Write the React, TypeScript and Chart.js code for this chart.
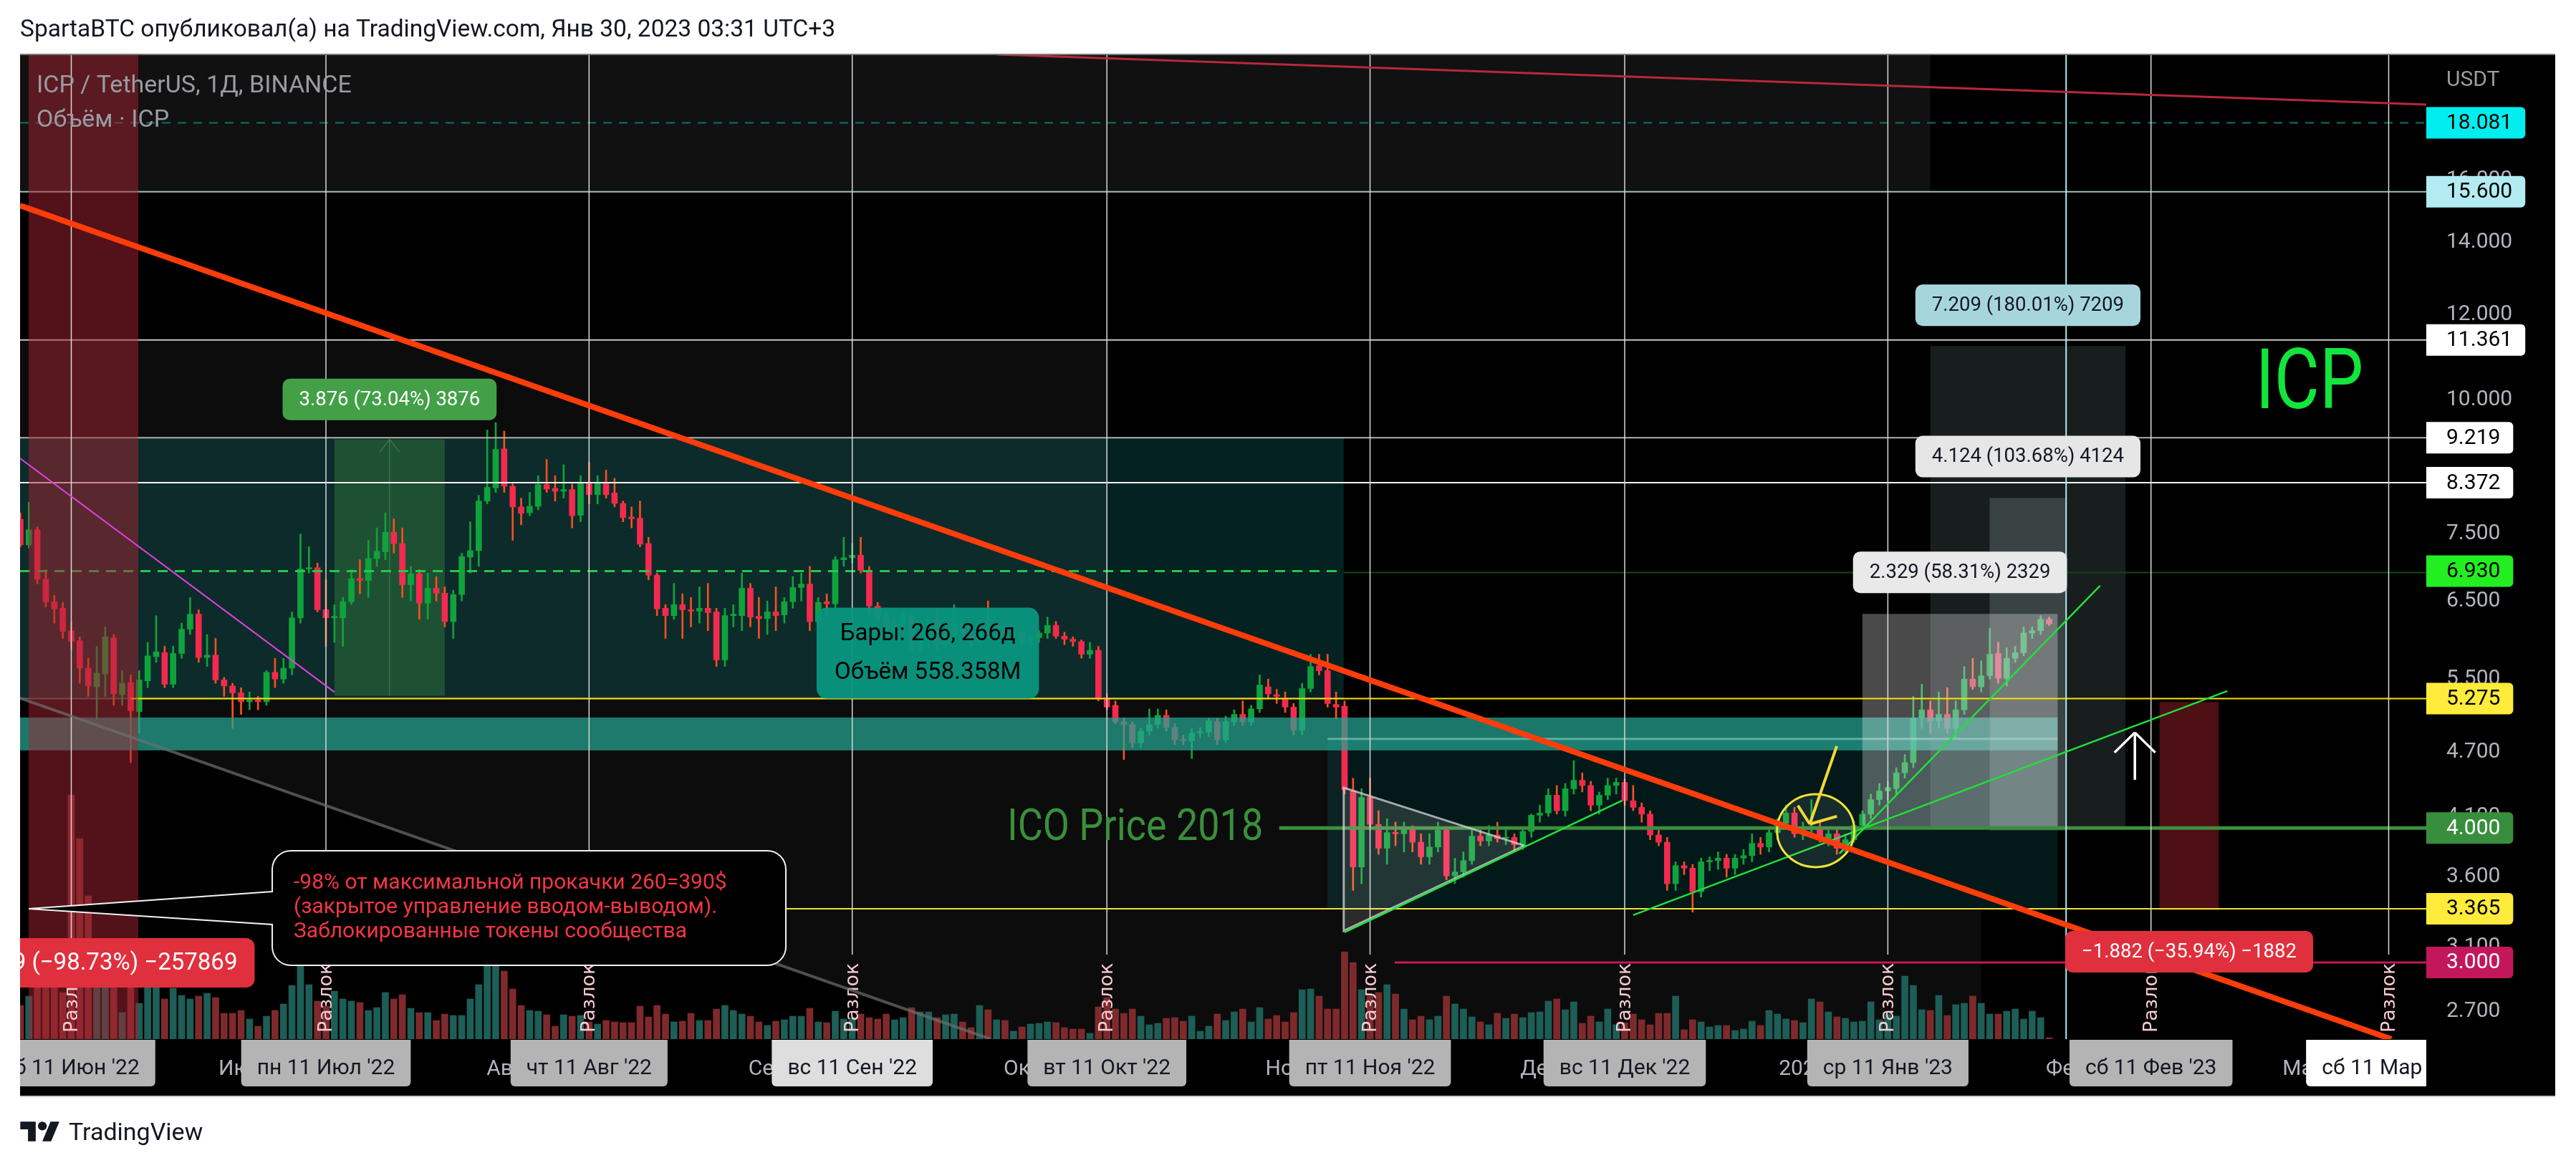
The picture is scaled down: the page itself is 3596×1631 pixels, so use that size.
import React, { useEffect, useRef } from 'react';
import { Chart, registerables } from 'chart.js';

Chart.register(...registerables);

const FONT = 'Roboto, "Noto Sans", "DejaVu Sans", sans-serif';

// Daily ICP/USDT candles. x = day offset from Sat 11 Jun 2022 (first candle 5 Jun 2022, last 30 Jan 2023)
const firstDay = -6;

const openPrices = [
  7.74, 7.33, 7.57, 6.81, 6.49, 6.40,
  6.10, 5.97, 5.63, 5.41, 5.56, 6.01, 5.32, 5.46, 5.13, 5.48,
  5.77, 5.82, 5.44, 5.81, 6.12, 6.32, 5.76, 5.79, 5.49, 5.42,
  5.34, 5.24, 5.26, 5.24, 5.58, 5.50, 5.63, 6.27, 6.96, 6.98,
  6.38, 6.27, 6.27, 6.49, 6.82, 6.79, 7.12, 7.22, 7.53, 7.35,
  6.73, 6.89, 6.47, 6.68, 6.61, 6.22, 6.59, 7.14, 7.24, 8.05,
  8.28, 9.00, 8.31, 7.95, 7.85, 7.96, 8.34, 8.27, 8.22, 8.25,
  7.81, 8.36, 8.16, 8.36, 8.19, 8.01, 7.78, 7.76, 7.35, 6.87,
  6.40, 6.30, 6.45, 6.38, 6.36, 6.40, 6.35, 5.73, 6.30, 6.30,
  6.68, 6.29, 6.26, 6.35, 6.31, 6.49, 6.69, 6.74, 6.22, 6.49,
  6.46, 7.10, 7.13, 7.17, 6.94, 6.43, 6.28, 6.11, 6.17, 6.30,
  5.87, 6.02, 6.25, 5.92, 6.05, 6.20, 6.08, 5.95, 6.18, 6.10,
  6.15, 6.00, 6.08, 5.97, 6.01, 6.07, 6.17, 6.03, 5.99, 5.96,
  5.80, 5.85, 5.28, 5.20, 5.02, 4.99, 4.80, 4.92, 4.99, 5.09,
  4.96, 4.83, 4.82, 4.90, 4.91, 5.02, 4.83, 5.02, 5.10, 5.02,
  5.16, 5.41, 5.32, 5.28, 5.18, 4.93, 5.39, 5.66, 5.60, 5.21,
  5.19, 4.33, 3.68, 4.27, 4.03, 3.83, 3.96, 3.95, 3.99, 3.88,
  3.76, 3.84, 3.98, 3.61, 3.64, 3.73, 3.93, 3.89, 3.94, 3.91,
  3.92, 3.86, 3.97, 4.11, 4.13, 4.29, 4.15, 4.35, 4.43, 4.38,
  4.20, 4.29, 4.38, 4.41, 4.24, 4.18, 4.12, 3.94, 3.88, 3.55,
  3.69, 3.67, 3.49, 3.72, 3.73, 3.75, 3.67, 3.75, 3.77, 3.87,
  3.84, 3.96, 4.04, 4.13, 3.95, 4.00, 4.01, 3.90, 3.95, 3.83,
  3.90, 4.02, 4.12, 4.25, 4.33, 4.35, 4.50, 4.60, 5.06, 5.15,
  5.03, 5.10, 4.95, 5.15, 5.50, 5.41, 5.54, 5.81, 5.51, 5.75,
  5.82, 6.07, 6.10, 6.25,
];

const highPrices = [
  7.85, 8.03, 7.62, 6.95, 6.58, 6.48,
  6.22, 6.02, 5.75, 5.90, 6.15, 6.05, 5.60, 5.55, 5.60, 5.95,
  6.30, 5.90, 5.90, 6.20, 6.55, 6.38, 6.05, 6.00, 5.52, 5.45,
  5.40, 5.35, 5.30, 5.60, 5.75, 5.75, 6.35, 7.50, 7.30, 7.05,
  6.80, 6.45, 6.55, 6.95, 7.10, 7.40, 7.60, 7.85, 7.75, 7.60,
  7.00, 6.95, 6.90, 6.85, 6.70, 6.65, 7.20, 7.70, 8.15, 9.37,
  9.52, 9.35, 8.35, 8.10, 8.20, 8.50, 8.80, 8.50, 8.70, 8.35,
  8.50, 8.75, 8.50, 8.60, 8.45, 8.05, 7.95, 8.05, 7.45, 6.90,
  6.45, 6.75, 6.60, 6.55, 6.70, 6.75, 6.40, 6.40, 6.45, 6.90,
  6.75, 6.55, 6.50, 6.70, 6.55, 6.85, 6.90, 7.00, 6.55, 6.60,
  7.15, 7.45, 7.35, 7.45, 7.00, 6.48, 6.32, 6.25, 6.35, 6.32,
  6.05, 6.28, 6.40, 6.10, 6.45, 6.25, 6.12, 6.25, 6.50, 6.20,
  6.18, 6.12, 6.10, 6.05, 6.10, 6.28, 6.22, 6.08, 6.02, 5.98,
  5.95, 5.90, 5.33, 5.25, 5.06, 5.02, 4.95, 5.16, 5.16, 5.15,
  5.00, 4.88, 4.95, 4.96, 5.06, 5.06, 5.08, 5.15, 5.25, 5.20,
  5.55, 5.50, 5.38, 5.35, 5.22, 5.45, 5.80, 5.80, 5.80, 5.35,
  5.25, 4.45, 4.35, 4.45, 4.15, 4.08, 4.05, 4.05, 4.02, 3.95,
  3.95, 4.05, 4.00, 3.75, 3.80, 3.98, 3.98, 4.02, 4.05, 4.00,
  3.95, 4.00, 4.12, 4.20, 4.35, 4.38, 4.40, 4.62, 4.50, 4.42,
  4.32, 4.45, 4.45, 4.44, 4.38, 4.22, 4.15, 3.98, 3.92, 3.72,
  3.72, 3.70, 3.75, 3.76, 3.80, 3.78, 3.78, 3.82, 3.95, 3.92,
  4.00, 4.08, 4.20, 4.18, 4.05, 4.25, 4.06, 3.98, 4.00, 3.95,
  4.06, 4.15, 4.30, 4.40, 4.42, 4.55, 4.68, 5.30, 5.44, 5.25,
  5.35, 5.40, 5.25, 5.65, 5.75, 5.72, 6.13, 5.95, 5.88, 5.90,
  6.15, 6.15, 6.30, 6.28,
];

const lowPrices = [
  7.30, 7.28, 6.74, 6.42, 6.20, 6.00,
  5.85, 5.45, 5.30, 5.05, 5.30, 5.20, 5.20, 4.60, 4.90, 5.40,
  5.70, 5.40, 5.40, 5.75, 6.05, 5.70, 5.65, 5.45, 5.30, 4.95,
  5.10, 5.15, 5.15, 5.20, 5.40, 5.45, 5.55, 6.20, 6.90, 6.35,
  5.90, 5.95, 5.90, 6.45, 6.60, 6.55, 7.00, 7.10, 7.20, 6.55,
  6.50, 6.25, 6.25, 6.50, 6.15, 6.00, 6.50, 6.90, 7.00, 8.00,
  8.20, 8.20, 7.40, 7.65, 7.80, 7.90, 8.20, 8.05, 8.10, 7.60,
  7.70, 8.00, 8.00, 8.10, 7.95, 7.70, 7.60, 7.30, 6.80, 6.30,
  6.00, 6.25, 6.00, 6.15, 6.20, 6.10, 5.65, 5.65, 6.15, 6.10,
  6.15, 6.00, 6.05, 6.10, 6.20, 6.40, 6.50, 6.10, 6.15, 6.30,
  6.40, 7.00, 7.05, 6.90, 6.33, 6.25, 6.05, 6.05, 6.12, 5.85,
  5.82, 5.88, 5.85, 5.85, 6.00, 6.02, 5.90, 5.92, 6.05, 6.00,
  5.95, 5.95, 5.92, 5.90, 5.95, 6.00, 6.00, 5.92, 5.90, 5.75,
  5.75, 5.25, 5.15, 5.00, 4.63, 4.75, 4.75, 4.88, 4.95, 4.92,
  4.78, 4.78, 4.64, 4.85, 4.86, 4.78, 4.80, 4.98, 4.98, 4.98,
  5.12, 5.28, 5.22, 5.12, 4.88, 4.88, 5.35, 5.55, 5.18, 5.05,
  4.30, 3.50, 3.55, 4.00, 3.78, 3.70, 3.85, 3.80, 3.80, 3.70,
  3.70, 3.80, 3.58, 3.55, 3.60, 3.70, 3.85, 3.85, 3.88, 3.86,
  3.80, 3.82, 3.92, 4.05, 4.10, 4.12, 4.10, 4.30, 4.32, 4.15,
  4.12, 4.25, 4.30, 4.20, 4.15, 4.05, 3.90, 3.85, 3.50, 3.50,
  3.62, 3.34, 3.45, 3.65, 3.66, 3.60, 3.62, 3.70, 3.72, 3.78,
  3.80, 3.90, 4.00, 3.92, 3.90, 3.95, 3.88, 3.85, 3.78, 3.80,
  3.88, 3.98, 4.08, 4.20, 4.25, 4.30, 4.45, 4.55, 4.95, 4.90,
  4.95, 4.90, 4.85, 5.10, 5.38, 5.35, 5.50, 5.45, 5.42, 5.70,
  5.78, 6.00, 6.05, 6.17,
];

const closePrices = [
  7.33, 7.57, 6.81, 6.49, 6.39, 6.09,
  5.96, 5.63, 5.42, 5.57, 6.02, 5.33, 5.45, 5.14, 5.49, 5.78,
  5.83, 5.44, 5.81, 6.12, 6.32, 5.76, 5.79, 5.49, 5.42, 5.34,
  5.24, 5.26, 5.24, 5.58, 5.50, 5.63, 6.27, 6.96, 6.97, 6.38,
  6.27, 6.29, 6.49, 6.82, 6.79, 7.12, 7.23, 7.53, 7.35, 6.73,
  6.89, 6.47, 6.68, 6.61, 6.22, 6.59, 7.15, 7.24, 8.05, 8.29,
  8.99, 8.31, 7.95, 7.84, 7.96, 8.34, 8.26, 8.22, 8.25, 7.80,
  8.36, 8.16, 8.36, 8.16, 8.01, 7.77, 7.75, 7.34, 6.87, 6.39,
  6.30, 6.45, 6.38, 6.36, 6.40, 6.34, 5.73, 6.30, 6.31, 6.68,
  6.28, 6.26, 6.35, 6.30, 6.49, 6.69, 6.74, 6.22, 6.48, 6.46,
  7.10, 7.13, 7.17, 6.94, 6.43, 6.28, 6.11, 6.17, 6.30, 5.87,
  6.02, 6.25, 5.92, 6.05, 6.20, 6.08, 5.95, 6.18, 6.10, 6.15,
  6.00, 6.08, 5.97, 6.01, 6.07, 6.17, 6.03, 5.99, 5.96, 5.80,
  5.85, 5.28, 5.18, 5.02, 4.99, 4.80, 4.92, 4.99, 5.09, 4.96,
  4.83, 4.82, 4.90, 4.91, 5.03, 4.83, 5.02, 5.10, 5.02, 5.16,
  5.43, 5.33, 5.30, 5.18, 4.93, 5.39, 5.65, 5.60, 5.22, 5.18,
  4.34, 3.68, 4.27, 4.03, 3.83, 3.96, 3.95, 3.99, 3.88, 3.76,
  3.84, 3.98, 3.61, 3.64, 3.73, 3.93, 3.89, 3.94, 3.91, 3.92,
  3.86, 3.97, 4.11, 4.13, 4.29, 4.15, 4.35, 4.43, 4.38, 4.20,
  4.29, 4.38, 4.41, 4.24, 4.18, 4.12, 3.94, 3.88, 3.55, 3.69,
  3.67, 3.49, 3.72, 3.73, 3.75, 3.67, 3.75, 3.77, 3.87, 3.84,
  3.96, 4.04, 4.13, 3.95, 4.00, 4.01, 3.90, 3.95, 3.83, 3.90,
  4.02, 4.12, 4.25, 4.33, 4.36, 4.50, 4.60, 5.06, 5.15, 5.03,
  5.10, 4.95, 5.15, 5.50, 5.41, 5.54, 5.80, 5.51, 5.75, 5.82,
  6.07, 6.10, 6.25, 6.19,
];

// Daily volume, millions ICP
const volumeM = [
  4.7, 6.0, 7.9, 8.5, 7.2, 6.5,
  34.1, 28.0, 20.0, 8.7, 8.4, 8.5, 3.7, 7.7, 5.0, 8.1,
  8.2, 5.6, 7.1, 6.1, 5.6, 6.0, 6.4, 5.8, 3.6, 3.6,
  4.0, 2.8, 1.8, 3.2, 4.0, 4.9, 7.5, 11.0, 7.6, 5.3,
  4.6, 6.7, 5.6, 5.3, 5.1, 4.0, 4.4, 6.5, 5.6, 6.2,
  4.3, 3.7, 3.7, 2.6, 3.5, 3.3, 3.3, 5.6, 7.6, 11.2,
  11.8, 9.5, 7.0, 4.7, 4.0, 3.9, 3.4, 1.8, 3.4, 3.2,
  3.3, 2.4, 2.1, 2.6, 2.4, 2.3, 2.3, 4.6, 3.1, 4.7,
  3.5, 2.4, 2.5, 3.6, 2.6, 2.6, 4.2, 4.7, 4.0, 3.5,
  3.2, 2.4, 1.9, 2.5, 2.7, 3.2, 3.2, 4.3, 2.4, 2.3,
  3.9, 2.8, 3.0, 3.5, 3.0, 2.8, 3.5, 2.7, 3.0, 4.4,
  3.8, 3.8, 3.0, 3.4, 3.5, 2.4, 1.6, 4.7, 4.1, 2.7,
  2.6, 1.1, 1.7, 2.1, 2.2, 2.4, 2.3, 1.6, 1.4, 1.4,
  0.8, 4.5, 5.8, 4.2, 3.6, 4.2, 3.2, 2.0, 2.2, 2.9,
  3.0, 2.5, 3.2, 1.1, 1.8, 3.5, 2.6, 3.8, 4.2, 2.4,
  4.4, 2.8, 3.3, 2.4, 3.7, 6.9, 7.0, 6.0, 4.2, 4.2,
  12.2, 10.7, 6.9, 6.0, 6.5, 7.6, 6.3, 4.2, 2.7, 3.2,
  2.7, 3.2, 6.0, 4.9, 4.2, 3.1, 2.4, 2.0, 3.6, 2.9,
  3.5, 3.0, 3.7, 3.8, 5.3, 5.6, 4.1, 5.2, 2.2, 3.2,
  2.4, 4.2, 2.0, 2.3, 3.5, 2.7, 2.0, 3.6, 3.6, 6.0,
  1.3, 2.7, 2.4, 1.7, 1.9, 1.9, 1.2, 1.4, 2.5, 1.9,
  4.0, 3.5, 2.8, 2.6, 2.3, 5.6, 5.2, 3.8, 3.1, 2.9,
  2.4, 2.5, 5.2, 2.7, 3.5, 3.2, 8.8, 7.5, 4.1, 4.0,
  6.1, 3.3, 4.8, 5.0, 6.0, 5.0, 3.5, 3.5, 3.9, 4.2,
  2.8, 3.9, 3.0, 0.2,
];

// Axes
const priceTicks = [2.7, 3.1, 3.6, 4.1, 4.7, 5.5, 6.5, 7.5, 10, 12, 14, 16];
const monthTickDays = [20, 51, 82, 112, 143, 173, 204, 235, 263];
const monthTickLabels = ['Июл', 'Авг', 'Сен', 'Окт', 'Ноя', 'Дек', '2023', 'Фев', 'Мар'];
const unlockDays = [0, 30, 61, 92, 122, 153, 183, 214, 245, 273];
const unlockDateLabels = ["сб 11 Июн '22", "пн 11 Июл '22", "чт 11 Авг '22", "вс 11 Сен '22", "вт 11 Окт '22", "пт 11 Ноя '22", "вс 11 Дек '22", "ср 11 Янв '23", "сб 11 Фев '23", "сб 11 Мар '23"];

// Horizontal levels
const levelPrices = [18.081, 15.6, 11.361, 9.219, 8.372, 6.93, 5.275, 4.0, 3.365, 3.0];
const levelFromDays = [null, null, null, null, null, null, 7.0, 142.3, -5.0, 155.9];

// Drawings: [fromDay, toDay, topPrice, bottomPrice]
const topZone = [-7, 219, 30, 15.6];
const rangeBox = [-7, 149.9, 9.219, 5.275];
const lowerBox = [148, 234, 4.839, 3.37];
const tealBand = [-7, 234, 5.066, 4.722];
const measureGreen = [31, 44, 9.183, 5.307];
const posTall = [219, 242, 11.214, 4.005];
const posGrey = [211, 234, 6.323, 3.994];
const posInner = [226, 235, 8.102, 3.978];
const posRed = [246, 253, 5.237, 3.355];
const juneBand = [-5.02, 7.89];
const shadePolygon = [[-7, 11.361], [122, 11.361], [122, 5.275], [149.9, 5.275], [149.9, 3.37], [225, 3.37], [225, 2.0], [108.3, 2.0], [108.3, 2.546], [-7, 5.295]];
// Trend lines: [[day, price], [day, price]]
const trendMain = [[-6.03, 15.15], [273.3, 2.546]];
const trendTop = [[109.0, 20.93], [277.43, 18.8]];
const trendMagenta = [[-6.03, 8.82], [31, 5.35]];
const trendGrey = [[-6.03, 5.28], [108.3, 2.546]];
const trianglePts = [[149.9, 4.36], [171.2, 3.851], [149.9, 3.209]];
const greenTrends = [
  [[150, 3.199], [182.7, 4.241]],
  [[184, 3.319], [254, 5.362]],
  [[208.3, 3.787], [239, 6.716]],
];
const circleCenter = [205.5, 3.977];
const sparkApex = [204.8, 4.033];
const sparkEnds = [[207.98, 4.765], [203.4, 4.196], [208.0, 4.101]];
const arrowUp = [243.1, 4.434, 4.906, 4.70];
const crosshairDay = 235;
const icoAnchor = [140.4, 4.0];
const icpAnchor = [257.3, 10.33];
const callAnchor = [-5.02, 3.365];
const barsBox = [87.8, 114.0, 5.275];
const redTagRight = [21.6, 3.365];

const measureTexts = ['3.876 (73.04%) 3876', '7.209 (180.01%) 7209', '4.124 (103.68%) 4124', '2.329 (58.31%) 2329', '−1.882 (−35.94%) −1882'];
const callLines = ['-98% от максимальной прокачки 260=390$', '(закрытое управление вводом-выводом).', 'Заблокированные токены сообщества'];
const barsLines = ['Бары: 266, 266д', 'Объём 558.358M'];
const redTagText = '−257.869 (−98.73%) −257869';

// ---------- styles ----------
const levelLineStyle = [
  { c: '#12706f', w: 2, dash: [12, 10] },
  { c: '#9fbcc4', w: 2 },
  { c: '#c4c4c4', w: 2 },
  { c: '#b0b0b0', w: 2 },
  { c: '#f4f4f4', w: 2 },
  { c: '#22c84a', w: 3, dash: [14, 10] },
  { c: '#f4e20c', w: 2 },
  { c: '#3e8e3e', w: 5 },
  { c: '#f0e030', w: 2 },
  { c: '#c2185b', w: 3 },
];
const levelTagStyle = [
  ['#00eef0', '#000'], ['#b2ebf2', '#000'], ['#ffffff', '#000'], ['#ffffff', '#000'], ['#ffffff', '#000'],
  ['#22ee22', '#000'], ['#ffeb3b', '#000'], ['#388e3c', '#fff'], ['#ffeb3b', '#000'], ['#c2185b', '#fff'],
];
const dateBoxBg = ['#b4b4b4', '#b4b4b4', '#b4b4b4', '#dedede', '#b4b4b4', '#b4b4b4', '#b4b4b4', '#b4b4b4', '#b4b4b4', '#ffffff'];

function seg(ctx: any, x1: number, y1: number, x2: number, y2: number, color: string, width: number, dash?: number[]) {
  ctx.save();
  ctx.strokeStyle = color;
  ctx.lineWidth = width;
  ctx.setLineDash(dash || []);
  ctx.beginPath();
  ctx.moveTo(x1, y1);
  ctx.lineTo(x2, y2);
  ctx.stroke();
  ctx.restore();
}

function rrect(ctx: any, x: number, y: number, w: number, h: number, r: any, fill: string) {
  ctx.beginPath();
  ctx.roundRect(x, y, w, h, r);
  ctx.fillStyle = fill;
  ctx.fill();
}

function squeezedText(ctx: any, text: string, x: number, y: number, sx: number, align: string) {
  ctx.save();
  ctx.translate(x, y);
  ctx.scale(sx, 1);
  ctx.textAlign = align;
  ctx.fillText(text, 0, 0);
  ctx.restore();
}

const drawingsPlugin = {
  id: 'tvDrawings',
  beforeDraw(chart: any) {
    const { ctx, chartArea: ca } = chart;
    const sx = chart.scales.x;
    const sy = chart.scales.y;
    const X = (d: number) => sx.getPixelForValue(d);
    const Y = (p: number) => sy.getPixelForValue(p);
    ctx.save();
    ctx.fillStyle = '#ffffff';
    ctx.fillRect(0, 0, chart.width, chart.height);
    ctx.fillStyle = '#000000';
    ctx.fillRect(ca.left, ca.top, sy.right - ca.left, sx.bottom - ca.top);
    ctx.beginPath();
    ctx.rect(ca.left, ca.top, ca.right - ca.left, ca.bottom - ca.top);
    ctx.clip();
    // shaded zones
    ctx.fillStyle = '#111111';
    ctx.fillRect(X(topZone[0]), Y(topZone[2]), X(topZone[1]) - X(topZone[0]), Y(topZone[3]) - Y(topZone[2]));
    ctx.fillStyle = '#0c0c0c';
    ctx.beginPath();
    shadePolygon.forEach((p, i) => (i ? ctx.lineTo(X(p[0]), Y(p[1])) : ctx.moveTo(X(p[0]), Y(p[1]))));
    ctx.closePath();
    ctx.fill();
    const box = (b: number[], c: string) => {
      ctx.fillStyle = c;
      ctx.fillRect(X(b[0]), Y(b[2]), X(b[1]) - X(b[0]), Y(b[3]) - Y(b[2]));
    };
    box(rangeBox, 'rgba(20,170,165,0.2)');
    seg(ctx, X(rangeBox[0]), Y(rangeBox[3]), X(rangeBox[1]), Y(rangeBox[3]), 'rgba(150,150,150,0.55)', 2);
    box(lowerBox, 'rgba(20,170,165,0.15)');
    box(measureGreen, 'rgba(67,160,71,0.32)');
    const mx = X((measureGreen[0] + measureGreen[1]) / 2);
    seg(ctx, mx, Y(measureGreen[3]), mx, Y(measureGreen[2]), 'rgba(90,170,90,0.35)', 2);
    seg(ctx, mx, Y(measureGreen[2]), mx - 14, Y(measureGreen[2]) + 18, 'rgba(90,170,90,0.35)', 2);
    seg(ctx, mx, Y(measureGreen[2]), mx + 14, Y(measureGreen[2]) + 18, 'rgba(90,170,90,0.35)', 2);
    ctx.restore();
  },
  afterDatasetsDraw(chart: any) {
    const { ctx, chartArea: ca } = chart;
    const sx = chart.scales.x;
    const sy = chart.scales.y;
    const X = (d: number) => sx.getPixelForValue(d);
    const Y = (p: number) => sy.getPixelForValue(p);
    const box = (b: number[], c: string) => {
      ctx.fillStyle = c;
      ctx.fillRect(X(b[0]), Y(b[2]), X(b[1]) - X(b[0]), Y(b[3]) - Y(b[2]));
    };
    const P = (pt: number[]) => [X(pt[0]), Y(pt[1])];
    const L = (a: number[], b: number[], c: string, w: number, dash?: number[]) => {
      const [x1, y1] = P(a);
      const [x2, y2] = P(b);
      seg(ctx, x1, y1, x2, y2, c, w, dash);
    };
    ctx.save();
    ctx.beginPath();
    ctx.rect(ca.left, ca.top, ca.right - ca.left, ca.bottom - ca.top);
    ctx.clip();

    box(tealBand, 'rgba(38,165,145,0.72)');
    seg(ctx, X(lowerBox[0]), Y(lowerBox[2]), X(lowerBox[1]), Y(lowerBox[2]), 'rgba(150,215,205,0.55)', 3);
    box(posTall, 'rgba(120,150,150,0.2)');
    box(posInner, 'rgba(180,200,200,0.22)');
    box(posGrey, 'rgba(255,255,255,0.29)');
    box(posRed, 'rgba(130,25,35,0.6)');

    // horizontal levels
    levelPrices.forEach((p, i) => {
      const st = levelLineStyle[i];
      const from = levelFromDays[i] === null ? sx.min : levelFromDays[i];
      const yy = Y(p);
      if (i === 5) {
        seg(ctx, X(from), yy, X(rangeBox[1]), yy, st.c, st.w, st.dash);
        seg(ctx, X(rangeBox[1]), yy + 2, ca.right, yy + 2, '#0d4a14', 2);
      } else {
        seg(ctx, X(from), yy, ca.right, yy, st.c, st.w, st.dash);
      }
    });

    // June red band
    ctx.fillStyle = 'rgba(165,35,50,0.5)';
    ctx.fillRect(X(juneBand[0]), ca.top, X(juneBand[1]) - X(juneBand[0]), ca.bottom - ca.top);

    // unlock verticals
    unlockDays.forEach((d) => {
      const xx = X(d);
      seg(ctx, xx, ca.top, xx, ca.bottom - 118, '#d8d8d8', 1.5);
      ctx.save();
      ctx.translate(xx, ca.bottom - 9);
      ctx.rotate(-Math.PI / 2);
      ctx.font = '27px "DejaVu Sans", sans-serif';
      ctx.fillStyle = '#f9cbd3';
      ctx.textAlign = 'left';
      ctx.textBaseline = 'middle';
      ctx.fillText('Разлок', 0, 1);
      ctx.restore();
    });
    seg(ctx, X(crosshairDay), ca.top, X(crosshairDay), ca.bottom, '#b2ebf2', 2);

    // thin lines
    L(trendMagenta[0], trendMagenta[1], '#e040e0', 2);
    L(trendGrey[0], trendGrey[1], 'rgba(110,110,110,0.7)', 4);
    L(trendTop[0], trendTop[1], '#b8283a', 3);

    // triangle
    ctx.beginPath();
    trianglePts.forEach((pt, i) => { const [a, b] = P(pt); if (i) ctx.lineTo(a, b); else ctx.moveTo(a, b); });
    ctx.closePath();
    ctx.fillStyle = 'rgba(255,255,255,0.13)';
    ctx.fill();
    ctx.strokeStyle = 'rgba(215,215,215,0.75)';
    ctx.lineWidth = 3;
    ctx.stroke();

    greenTrends.forEach((g) => L(g[0], g[1], '#22e03a', 2.5));

    // circle + spark
    const [cx, cy] = P(circleCenter);
    ctx.beginPath();
    ctx.ellipse(cx, cy, 54, 51, 0, 0, Math.PI * 2);
    ctx.fillStyle = 'rgba(255,255,255,0.08)';
    ctx.fill();
    ctx.strokeStyle = '#f2e23a';
    ctx.lineWidth = 3;
    ctx.stroke();
    sparkEnds.forEach((e) => L(sparkApex, e, '#f2d83a', 4));

    // white arrow
    const ax = X(arrowUp[0]);
    seg(ctx, ax, Y(arrowUp[1]), ax, Y(arrowUp[2]), '#ffffff', 3.5);
    seg(ctx, ax, Y(arrowUp[2]), X(arrowUp[0] - 2.4), Y(arrowUp[3]), '#ffffff', 3.5);
    seg(ctx, ax, Y(arrowUp[2]), X(arrowUp[0] + 2.4), Y(arrowUp[3]), '#ffffff', 3.5);

    // main red trend line
    L(trendMain[0], trendMain[1], '#ff3d0a', 8);

    // texts on chart
    ctx.textBaseline = 'middle';
    ctx.font = `34px ${FONT}`;
    ctx.fillStyle = '#9a9ca3';
    ctx.textAlign = 'left';
    ctx.fillText('ICP / TetherUS, 1Д, BINANCE', ca.left + 23, ca.top + 44);
    ctx.fillText('Объём · ICP', ca.left + 23, ca.top + 92);

    ctx.font = `62px ${FONT}`;
    ctx.fillStyle = '#3b8f3b';
    squeezedText(ctx, 'ICO Price 2018', X(icoAnchor[0]), Y(icoAnchor[1]) + 1, 0.87, 'right');

    ctx.font = `117px ${FONT}`;
    ctx.fillStyle = '#12e63c';
    squeezedText(ctx, 'ICP', X(icpAnchor[0]), Y(icpAnchor[1]) + 4, 0.83, 'left');

    // measurement tags
    const tag = (text: string, cx2: number, top: number, bg: string, fg: string) => {
      ctx.font = `27.5px ${FONT}`;
      const w = ctx.measureText(text).width + 46;
      rrect(ctx, cx2 - w / 2, top, w, 58, 10, bg);
      ctx.fillStyle = fg;
      ctx.textAlign = 'center';
      ctx.textBaseline = 'middle';
      ctx.fillText(text, cx2, top + 30);
    };
    tag(measureTexts[0], X((measureGreen[0] + measureGreen[1]) / 2), Y(measureGreen[2]) - 85, '#43a047', '#ffffff');
    tag(measureTexts[1], X((posTall[0] + posTall[1]) / 2), Y(posTall[2]) - 86, '#a6d6dc', '#131722');
    tag(measureTexts[2], X((posTall[0] + posTall[1]) / 2), Y(posInner[2]) - 87, '#e6e6e6', '#131722');
    tag(measureTexts[3], X((posGrey[0] + posGrey[1]) / 2), Y(posGrey[2]) - 87, '#e9e9e9', '#131722');
    tag(measureTexts[4], X((posRed[0] + posRed[1]) / 2), Y(posRed[3]) + 29, '#e0303e', '#ffffff');

    // bars / volume box
    const bl = X(barsBox[0]);
    const br = X(barsBox[1]);
    const bb = Y(barsBox[2]);
    rrect(ctx, bl, bb - 127, br - bl, 127, 14, 'rgba(8,150,128,0.95)');
    ctx.font = `33px ${FONT}`;
    ctx.fillStyle = '#000000';
    ctx.textAlign = 'center';
    ctx.fillText(barsLines[0], (bl + br) / 2, bb - 90);
    ctx.fillText(barsLines[1], (bl + br) / 2, bb - 36);

    // red range tag at left
    const rtR = X(redTagRight[0]);
    const rtT = Y(redTagRight[1]) + 41;
    rrect(ctx, rtR - 520, rtT, 520, 69, 12, '#e0303e');
    ctx.font = `33px ${FONT}`;
    ctx.fillStyle = '#ffffff';
    ctx.textAlign = 'right';
    ctx.fillText(redTagText, rtR - 24, rtT + 36);

    // callout
    const [ax0, ay0] = P(callAnchor);
    const left = ax0 + 340;
    const top = ay0 - 81;
    const w = 717;
    const h = 160;
    const r = 26;
    ctx.beginPath();
    ctx.moveTo(left + r, top);
    ctx.lineTo(left + w - r, top);
    ctx.arcTo(left + w, top, left + w, top + r, r);
    ctx.lineTo(left + w, top + h - r);
    ctx.arcTo(left + w, top + h, left + w - r, top + h, r);
    ctx.lineTo(left + r, top + h);
    ctx.arcTo(left, top + h, left, top + h - r, r);
    ctx.lineTo(left, ay0 + 22);
    ctx.lineTo(ax0, ay0);
    ctx.lineTo(left, ay0 - 24);
    ctx.lineTo(left, top + r);
    ctx.arcTo(left, top, left + r, top, r);
    ctx.closePath();
    ctx.fillStyle = '#000000';
    ctx.fill();
    ctx.strokeStyle = '#f0f0f0';
    ctx.lineWidth = 2;
    ctx.stroke();
    ctx.font = `30px ${FONT}`;
    ctx.fillStyle = '#f23645';
    ctx.textAlign = 'left';
    callLines.forEach((t, i) => ctx.fillText(t, left + 30, ay0 - 35 + i * 34));

    ctx.restore();
  },
  afterDraw(chart: any) {
    const { ctx, chartArea: ca } = chart;
    const sx = chart.scales.x;
    const sy = chart.scales.y;
    const X = (d: number) => sx.getPixelForValue(d);
    const Y = (p: number) => sy.getPixelForValue(p);
    ctx.save();
    seg(ctx, ca.left, ca.top, sy.right, ca.top, '#7a7a7a', 2);
    ctx.textBaseline = 'middle';
    ctx.textAlign = 'left';
    ctx.font = `30px ${FONT}`;
    ctx.fillStyle = '#9a9ca3';
    ctx.fillText('USDT', ca.right + 28, ca.top + 36);
    // price tags
    levelPrices.forEach((p, i) => {
      const t = p.toFixed(3);
      ctx.font = `30px ${FONT}`;
      const w = ctx.measureText(t).width + 46;
      const yy = Y(p);
      rrect(ctx, ca.right, yy - 22, w, 44, [0, 6, 6, 0], levelTagStyle[i][0]);
      ctx.fillStyle = levelTagStyle[i][1];
      ctx.fillText(t, ca.right + 28, yy + 1);
    });
    // date boxes on time axis
    ctx.save();
    ctx.beginPath();
    ctx.rect(ca.left, sx.top, ca.right - ca.left, sx.bottom - sx.top);
    ctx.clip();
    unlockDays.forEach((d, i) => {
      const t = unlockDateLabels[i];
      ctx.font = `30px ${FONT}`;
      const w = ctx.measureText(t).width + 44;
      const cx = X(d);
      rrect(ctx, cx - w / 2, sx.top + 1, w, 65, [0, 0, 6, 6], dateBoxBg[i]);
      ctx.fillStyle = '#131722';
      ctx.textAlign = 'center';
      ctx.fillText(t, cx, sx.top + 41);
    });
    ctx.restore();
    seg(ctx, ca.left, sx.bottom + 1, sy.right, sx.bottom + 1, '#c8c8c8', 2);
    ctx.restore();
  },
};

export default function App() {
  const canvasRef = useRef<HTMLCanvasElement | null>(null);

  useEffect(() => {
    const canvas = canvasRef.current;
    if (!canvas) return;
    const days = openPrices.map((_, i) => firstDay + i);
    const up = openPrices.map((o, i) => closePrices[i] >= o);
    const bodyColors = up.map((u) => (u ? '#10a23c' : '#f4294f'));
    const wickColors = up.map((u) => (u ? '#10a23c' : '#f4511e'));
    const volColors = up.map((u) => (u ? '#1d5e57' : '#7e2a2c'));

    const chart = new Chart(canvas, {
      type: 'bar',
      data: {
        datasets: [
          {
            label: 'Объём',
            data: days.map((d, i) => ({ x: d, y: volumeM[i] })),
            yAxisID: 'yv',
            backgroundColor: volColors,
            barThickness: 9,
            grouped: false,
            order: 3,
          } as any,
          {
            label: 'wicks',
            data: days.map((d, i) => ({ x: d, y: [lowPrices[i], highPrices[i]] })),
            yAxisID: 'y',
            backgroundColor: wickColors,
            barThickness: 2,
            grouped: false,
            order: 2,
          } as any,
          {
            label: 'ICP/USDT',
            data: days.map((d, i) => ({ x: d, y: [Math.min(openPrices[i], closePrices[i]), Math.max(openPrices[i], closePrices[i])] })),
            yAxisID: 'y',
            backgroundColor: bodyColors,
            barThickness: 8,
            minBarLength: 2,
            grouped: false,
            order: 1,
          } as any,
        ],
      },
      options: {
        responsive: false,
        animation: false,
        devicePixelRatio: 1,
        events: [],
        layout: { padding: { left: 28, top: 76, right: 29, bottom: 101 } },
        plugins: { legend: { display: false }, tooltip: { enabled: false } },
        scales: {
          x: {
            type: 'linear',
            min: -6.034,
            max: 277.43,
            offset: false,
            grid: { display: false, drawTicks: false },
            border: { display: false },
            afterBuildTicks: (s: any) => { s.ticks = monthTickDays.map((v) => ({ value: v })); },
            afterFit: (s: any) => { s.height = 79; },
            ticks: {
              autoSkip: false,
              maxRotation: 0,
              padding: 24,
              color: '#b2b5be',
              font: { size: 30, family: FONT },
              callback: (_v: any, i: number) => monthTickLabels[i],
            },
          },
          y: {
            type: 'logarithmic',
            position: 'right',
            min: 2.546,
            max: 20.93,
            grid: { display: false, drawTicks: false },
            border: { display: false },
            afterBuildTicks: (s: any) => { s.ticks = priceTicks.map((v) => ({ value: v })); },
            afterFit: (s: any) => { s.width = 180; },
            ticks: {
              autoSkip: false,
              padding: 28,
              color: '#b2b5be',
              font: { size: 30, family: FONT },
              callback: (v: any) => Number(v).toFixed(3),
            },
          },
          yv: { type: 'linear', display: false, min: 0, max: 137.5 },
        },
      } as any,
      plugins: [drawingsPlugin as any],
    });
    return () => chart.destroy();
  }, []);

  return (
    <div style={{ position: 'fixed', left: 0, top: 0, width: 3596, height: 1631, background: '#ffffff', overflow: 'hidden' }}>
      <canvas ref={canvasRef} width={3596} height={1631} style={{ position: 'absolute', left: 0, top: 0, width: 3596, height: 1631 }} />
      <div style={{ position: 'absolute', left: 28, top: 20, font: `33.5px ${FONT}`, color: '#131722', lineHeight: '40px', whiteSpace: 'nowrap' }}>
        SpartaBTC опубликовал(а) на TradingView.com, Янв 30, 2023 03:31 UTC+3
      </div>
      <div style={{ position: 'absolute', left: 28, top: 1560, display: 'flex', alignItems: 'center' }}>
        <svg width="56" height="43" viewBox="0 0 36 28">
          <path d="M14 22H7V11H0V4h14v18zM28 22h-8l7.5-18h8L28 22z" fill="#131722" />
          <circle cx="20" cy="8" r="4" fill="#131722" />
        </svg>
        <span style={{ font: `34px ${FONT}`, color: '#131722', marginLeft: 12, marginTop: -4 }}>TradingView</span>
      </div>
    </div>
  );
}
